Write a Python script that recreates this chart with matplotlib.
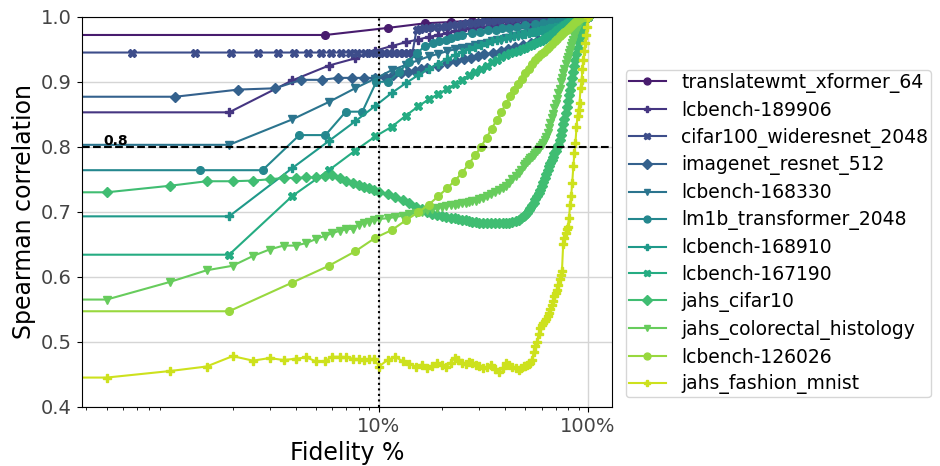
import numpy as np
import matplotlib
matplotlib.use("Agg")
import matplotlib.pyplot as plt

# fidelity = step / total steps; step 0 is the "zero fidelity" point
names = ["translatewmt_xformer_64", "lcbench-189906", "cifar100_wideresnet_2048",
         "imagenet_resnet_512", "lcbench-168330", "lm1b_transformer_2048",
         "lcbench-168910", "lcbench-167190", "jahs_cifar10",
         "jahs_colorectal_histology", "lcbench-126026", "jahs_fashion_mnist"]

# translatewmt_xformer_64 (18 steps)
tw_steps = list(range(0, 19))
tw_corr = [0.972, 0.972, 0.983, 0.990, 0.992, 0.994, 0.996, 0.997, 0.997, 0.998,
           0.998, 0.999, 0.999, 0.999, 1.0, 1.0, 1.0, 1.0, 1.0]

# lcbench-189906 (52 steps)
lc189_steps = list(range(0, 53))
lc189_corr = [0.853, 0.853, 0.902, 0.925, 0.936, 0.948, 0.955, 0.961, 0.965, 0.969,
              0.972, 0.975, 0.978, 0.980, 0.982, 0.984, 0.985, 0.985, 0.986, 0.986,
              0.987, 0.987, 0.988, 0.988, 0.989, 0.989, 0.990, 0.990, 0.991, 0.991,
              0.992, 0.992, 0.993, 0.993, 0.994, 0.994, 0.995, 0.995, 0.996, 0.996,
              0.997, 0.997, 0.997, 0.998, 0.998, 0.998, 0.999, 0.999, 0.999, 1.0,
              1.0, 1.0, 1.0]

# cifar100_wideresnet_2048 (152 steps)
c100_steps = list(range(0, 23)) + [23, 24, 25, 26, 28, 30, 32, 34, 36, 38, 40, 43, 46, 49,
                                   52, 56, 60, 64, 68, 73, 78, 83, 89, 95, 101, 108, 115,
                                   122, 130, 138, 145, 152]
c100_corr = [0.945, 0.945, 0.945, 0.945, 0.945, 0.945, 0.945, 0.945, 0.945, 0.945,
             0.945, 0.945, 0.945, 0.945, 0.945, 0.945, 0.945, 0.945, 0.945, 0.945,
             0.945, 0.945, 0.945,
             0.980, 0.981, 0.982, 0.983, 0.984, 0.985, 0.986, 0.987, 0.988, 0.989,
             0.990, 0.991, 0.992, 0.993, 0.994, 0.995, 0.996, 0.997, 0.998, 0.998,
             0.999, 0.999, 0.999, 1.0, 1.0, 1.0, 1.0, 1.0, 1.0, 1.0, 1.0, 1.0]

# imagenet_resnet_512 (94 steps)
imn_steps = list(range(0, 17)) + [18, 20, 22, 24, 26, 28, 30, 33, 36, 39, 42, 46, 50, 54,
                                  58, 62, 66, 70, 74, 78, 82, 86, 90, 94]
imn_corr = [0.877, 0.877, 0.888, 0.890, 0.903, 0.903, 0.906, 0.906, 0.906, 0.906,
            0.908, 0.911, 0.913, 0.915, 0.917, 0.919, 0.921, 0.925, 0.929, 0.932,
            0.935, 0.937, 0.939, 0.942, 0.945, 0.948, 0.951, 0.954, 0.957, 0.960,
            0.964, 0.968, 0.972, 0.975, 0.979, 0.982, 0.986, 0.990, 0.994, 0.997,
            1.0]

# lcbench-168330 (52 steps)
lc1683_steps = list(range(0, 53))
lc1683_corr = [0.803, 0.803, 0.842, 0.869, 0.890, 0.905, 0.918, 0.926, 0.933, 0.939,
               0.943, 0.947, 0.950, 0.952, 0.954, 0.956, 0.958, 0.960, 0.962, 0.964,
               0.965, 0.967, 0.968, 0.970, 0.971, 0.972, 0.974, 0.975, 0.976, 0.977,
               0.978, 0.979, 0.980, 0.981, 0.983, 0.984, 0.985, 0.986, 0.987, 0.988,
               0.989, 0.990, 0.991, 0.992, 0.993, 0.994, 0.995, 0.996, 0.997, 0.998,
               0.999, 1.0, 1.0]

# lm1b_transformer_2048 (72 steps)
lm_steps = list(range(0, 19)) + [20, 22, 24, 26, 28, 30, 33, 36, 40, 44, 48, 52, 56, 60,
                                 64, 68, 72]
lm_corr = [0.764, 0.764, 0.764, 0.818, 0.818, 0.854, 0.854, 0.900, 0.900, 0.915,
           0.931, 0.945, 0.955, 0.960, 0.962, 0.965, 0.967, 0.970, 0.972, 0.975,
           0.977, 0.979, 0.980, 0.982, 0.983, 0.985, 0.987, 0.989, 0.991, 0.993,
           0.995, 0.996, 0.997, 0.998, 0.999, 1.0]

# lcbench-168910 (52 steps)
lc1689_steps = list(range(0, 53))
lc1689_corr = [0.693, 0.693, 0.767, 0.809, 0.839, 0.863, 0.883, 0.898, 0.910, 0.920,
               0.928, 0.935, 0.941, 0.946, 0.950, 0.954, 0.957, 0.960, 0.962, 0.964,
               0.966, 0.968, 0.970, 0.971, 0.972, 0.973, 0.974, 0.975, 0.976, 0.977,
               0.978, 0.979, 0.980, 0.981, 0.982, 0.983, 0.984, 0.985, 0.986, 0.987,
               0.988, 0.989, 0.990, 0.991, 0.992, 0.993, 0.994, 0.995, 0.996, 0.997,
               0.998, 0.999, 1.0]

# lcbench-167190 (52 steps)
lc1671_steps = list(range(0, 53))
lc1671_corr = [0.634, 0.634, 0.724, 0.764, 0.794, 0.816, 0.831, 0.848, 0.862, 0.873,
               0.881, 0.889, 0.896, 0.903, 0.910, 0.915, 0.920, 0.925, 0.930, 0.934,
               0.938, 0.941, 0.944, 0.946, 0.948, 0.950, 0.952, 0.955, 0.957, 0.959,
               0.961, 0.963, 0.966, 0.969, 0.971, 0.974, 0.977, 0.980, 0.983, 0.985,
               0.987, 0.990, 0.992, 0.994, 0.995, 0.996, 0.997, 0.998, 0.999, 0.999,
               1.0, 1.0, 1.0]

# jahs (200 epochs)
jahs_steps = (list(range(0, 21)) + list(range(22, 61, 2)) + list(range(63, 100, 3))
              + list(range(100, 201, 2)))
jc10_corr = [0.730, 0.730, 0.740, 0.747, 0.747, 0.748, 0.750, 0.752, 0.752, 0.753,
             0.753, 0.755, 0.756, 0.752, 0.747, 0.744, 0.741, 0.738, 0.736, 0.733,
             0.731,
             0.727, 0.722, 0.718, 0.713, 0.708, 0.704, 0.700, 0.697, 0.695, 0.693,
             0.692, 0.691, 0.690, 0.689, 0.688, 0.687, 0.686, 0.685, 0.684, 0.683,
             0.683, 0.682, 0.682, 0.682, 0.682, 0.682, 0.682, 0.683, 0.684, 0.686,
             0.688, 0.691, 0.694,
             0.695, 0.698, 0.702, 0.706, 0.710, 0.714, 0.719, 0.724, 0.729, 0.734,
             0.740, 0.746, 0.752, 0.758, 0.764, 0.770, 0.775, 0.780, 0.785, 0.790,
             0.794, 0.799, 0.803, 0.810, 0.818, 0.826, 0.835, 0.843, 0.852, 0.861,
             0.870, 0.879, 0.888, 0.897, 0.906, 0.915, 0.924, 0.934, 0.943, 0.952,
             0.961, 0.969, 0.977, 0.984, 0.990, 0.995, 0.998, 1.0, 1.0, 1.0,
             1.0]
jcol_corr = [0.565, 0.565, 0.592, 0.610, 0.617, 0.632, 0.642, 0.648, 0.648, 0.652,
             0.658, 0.663, 0.667, 0.671, 0.673, 0.674, 0.680, 0.683, 0.685, 0.687,
             0.689,
             0.690, 0.692, 0.694, 0.696, 0.698, 0.700, 0.702, 0.704, 0.706, 0.708,
             0.709, 0.710, 0.711, 0.712, 0.713, 0.714, 0.715, 0.716, 0.717, 0.719,
             0.721, 0.724, 0.727, 0.730, 0.733, 0.736, 0.740, 0.745, 0.750, 0.755,
             0.760, 0.765, 0.771,
             0.773, 0.776, 0.779, 0.782, 0.785, 0.788, 0.791, 0.794, 0.797, 0.800,
             0.803, 0.806, 0.810, 0.815, 0.821, 0.829, 0.836, 0.844, 0.851, 0.859,
             0.866, 0.874, 0.882, 0.889, 0.899, 0.906, 0.913, 0.920, 0.927, 0.933,
             0.938, 0.944, 0.949, 0.955, 0.960, 0.965, 0.970, 0.975, 0.980, 0.985,
             0.990, 0.993, 0.996, 0.998, 1.0, 1.0, 1.0, 1.0, 1.0, 1.0,
             1.0]
jfm_corr = [0.445, 0.445, 0.455, 0.462, 0.478, 0.471, 0.475, 0.472, 0.474, 0.476,
            0.470, 0.470, 0.477, 0.477, 0.476, 0.474, 0.473, 0.472, 0.473, 0.474,
            0.462,
            0.472, 0.477, 0.470, 0.466, 0.462, 0.465, 0.460, 0.463, 0.467, 0.465,
            0.462, 0.468, 0.475, 0.472, 0.468, 0.466, 0.469, 0.467, 0.465, 0.463,
            0.460, 0.462, 0.465, 0.458, 0.454, 0.460, 0.467, 0.465, 0.462, 0.459,
            0.457, 0.460, 0.463,
            0.463, 0.465, 0.466, 0.467, 0.472, 0.485, 0.493, 0.500, 0.512, 0.522,
            0.526, 0.529, 0.532, 0.535, 0.539, 0.545, 0.551, 0.557, 0.563, 0.570,
            0.575, 0.580, 0.588, 0.596, 0.603, 0.609, 0.650, 0.660, 0.668, 0.674,
            0.677, 0.690, 0.710, 0.725, 0.745, 0.770, 0.790, 0.806, 0.830, 0.848,
            0.857, 0.867, 0.890, 0.902, 0.920, 0.934, 0.948, 0.960, 0.972, 0.985,
            1.0]

# lcbench-126026 (52 steps)
lc126_steps = list(range(0, 53))
lc126_corr = [0.547, 0.547, 0.591, 0.617, 0.639, 0.660, 0.672, 0.687, 0.699, 0.711,
              0.724, 0.736, 0.748, 0.760, 0.774, 0.787, 0.800, 0.814, 0.828, 0.841,
              0.853, 0.866, 0.878, 0.888, 0.897, 0.905, 0.913, 0.920, 0.927, 0.933,
              0.938, 0.942, 0.946, 0.950, 0.954, 0.958, 0.962, 0.966, 0.970, 0.973,
              0.977, 0.980, 0.983, 0.986, 0.989, 0.992, 0.994, 0.996, 0.998, 0.999,
              0.9995, 1.0, 1.0]

series = [(tw_steps, 18, tw_corr), (lc189_steps, 52, lc189_corr),
          (c100_steps, 152, c100_corr), (imn_steps, 94, imn_corr),
          (lc1683_steps, 52, lc1683_corr), (lm_steps, 72, lm_corr),
          (lc1689_steps, 52, lc1689_corr), (lc1671_steps, 52, lc1671_corr),
          (jahs_steps, 200, jc10_corr), (jahs_steps, 200, jcol_corr),
          (lc126_steps, 52, lc126_corr), (jahs_steps, 200, jfm_corr)]

markers = ['o', 'P', 'X', 'D', 'v']
colors = plt.cm.viridis(np.linspace(0, 1, len(names) + 2)[1:-1])

fig, ax = plt.subplots(figsize=(9.4, 4.66), dpi=100)
fig.subplots_adjust(left=0.087, right=0.651, top=0.964, bottom=0.127)

for i, (steps, total, corr) in enumerate(series):
    fid = np.array(steps) / total
    ax.plot(fid, corr, marker=markers[i % 5], color=colors[i], lw=1.5, ms=5.5,
            label=names[i])

ax.set_xscale('log')
ax.set_xlim(0.0038, 1.3)
ax.set_ylim(0.4, 1.0)
ax.axhline(0.8, color='k', ls='--', lw=1.5)
ax.axvline(0.1, color='k', ls=':', lw=1.5)
ax.text(0.0048, 0.803, '0.8', fontweight='bold', fontsize=10)

ax.set_xticks([0.1, 1])
ax.set_xticklabels(['10%', '100%'])
ax.tick_params(labelsize=14, labelcolor='#444444')
ax.grid(True, color='#d5d5d5', lw=1)
ax.set_axisbelow(True)
ax.set_xlabel('Fidelity %', fontsize=17)
ax.set_ylabel('Spearman correlation', fontsize=17)

ax.legend(loc='center left', bbox_to_anchor=(1.026, 0.444), borderaxespad=0,
          fontsize=13.5, labelspacing=0.42, borderpad=0.15, markerscale=0.9)

fig.savefig('out.png')
